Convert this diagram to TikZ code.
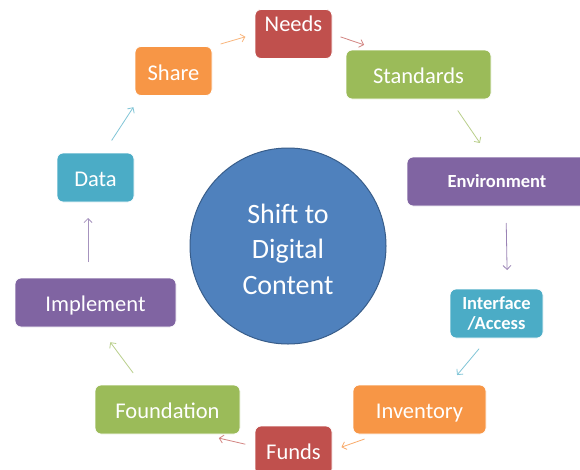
\documentclass[tikz,border=0pt]{standalone}
\usepackage{fontspec}
\setmainfont{Carlito}
\usepackage{tikz}
\usetikzlibrary{arrows.meta,positioning}
\definecolor{boxred}{HTML}{C0504D}
\definecolor{boxgreen}{HTML}{9BBB59}
\definecolor{boxpurple}{HTML}{8064A2}
\definecolor{boxcyan}{HTML}{4BACC6}
\definecolor{boxorange}{HTML}{F79646}
\definecolor{hubblue}{HTML}{4F81BD}
\definecolor{hubline}{HTML}{385D8A}

\begin{document}
\begin{tikzpicture}
 	[x=1pt, y=-1pt,
 	% STYLES
 	% The stage box style is used for the stages around the cycle
 	stagebox/.style={rectangle, rounded corners=6pt, draw=white, line width=0.8pt, text=white, inner sep=0pt, outer sep=0pt, minimum height=49pt, text height=22pt, text depth=4pt, font=\fontsize{22.5}{27}\selectfont},
 	% bold text for the two smaller labels
 	boldbox/.style={stagebox, align=center, text height=, text depth=, font=\fontsize{18.5}{20.5}\selectfont\bfseries},
 	% The hub style is used for the centre circle
 	hub/.style={circle, fill=hubblue, draw=hubline, line width=1pt, minimum size=196pt},
 	hubtext/.style={text=white, align=center, font=\fontsize{28}{35.5}\selectfont},
 	% The link style is used for the short arrows of the cycle
 	link/.style={-{Straight Barb[length=4pt,width=8pt]}, line width=0.8pt}]
 	
 	\fill[white] (0,0) rectangle (580,469);
 	\useasboundingbox (0,0) rectangle (580,469);
 	
 	% centre
 	\node [hub] (Hub) at (288,246) {};
 	\node [hubtext] (HubText) at ([yshift=-3pt]Hub.center) {Shift to\\Digital\\Content};
 	% top
 	\node [stagebox, fill=boxred, minimum width=77pt, text height=16pt, text depth=22pt] (Needs) at (293.5,34) {Needs};
 	\node [stagebox, fill=boxgreen, minimum width=145pt] (Standards) at (418.5,74.5) {Standards};
 	\node [boldbox, fill=boxpurple, minimum width=180pt] (Environment) at (497,181.5) {Environment};
 	\node [boldbox, fill=boxcyan, minimum width=93pt] (Interface) at (496.5,313.5) {Interface\\/Access};
 	% bottom
 	\node [stagebox, fill=boxorange, minimum width=133pt] (Inventory) at (419.5,409.5) {Inventory};
 	\node [stagebox, fill=boxred, minimum width=77pt] (Funds) at (293.5,450.5) {Funds};
 	\node [stagebox, fill=boxgreen, minimum width=145pt] (Foundation) at (167.5,409.5) {Foundation};
 	% left
 	\node [stagebox, fill=boxpurple, minimum width=161pt] (Implement) at (95.5,302.5) {Implement};
 	\node [stagebox, fill=boxcyan, minimum width=77pt] (Data) at (95.5,177.5) {Data};
 	\node [stagebox, fill=boxorange, minimum width=77pt] (Share) at (173.5,71) {Share};
 	
 	% Draw the links of the cycle
 	\path[link]
 	(Share.north east) edge[boxorange!70, shorten <=9pt, shorten >=10pt] (Needs.west)
 	(Needs.east) edge[boxred!70, shorten <=9pt, shorten >=16pt] (Standards.148)
 	(Standards.-38) edge[boxgreen!70, shorten <=14pt, shorten >=17pt] (Environment.107)
 	(Environment.-70) edge[boxpurple!80, shorten <=17pt, shorten >=19pt] (Interface.66)
 	(Interface.251) edge[boxcyan!70, shorten <=14pt, shorten >=13pt] (Inventory.40)
 	(Inventory.-149) edge[boxorange!80, shorten <=15pt, shorten >=10pt] (Funds.east)
 	(Funds.174) edge[boxred!70, shorten <=10pt, shorten >=18pt] (Foundation.-36)
 	(Foundation.136) edge[boxgreen!70, shorten <=15pt, shorten >=19pt] (Implement.-82)
 	(Implement.107) edge[boxpurple!70, shorten <=16pt, shorten >=16pt] (Data.253)
 	(Data.72) edge[boxcyan!70, shorten <=15pt, shorten >=14pt] (Share.-143);
 	
\end{tikzpicture}
\end{document}
